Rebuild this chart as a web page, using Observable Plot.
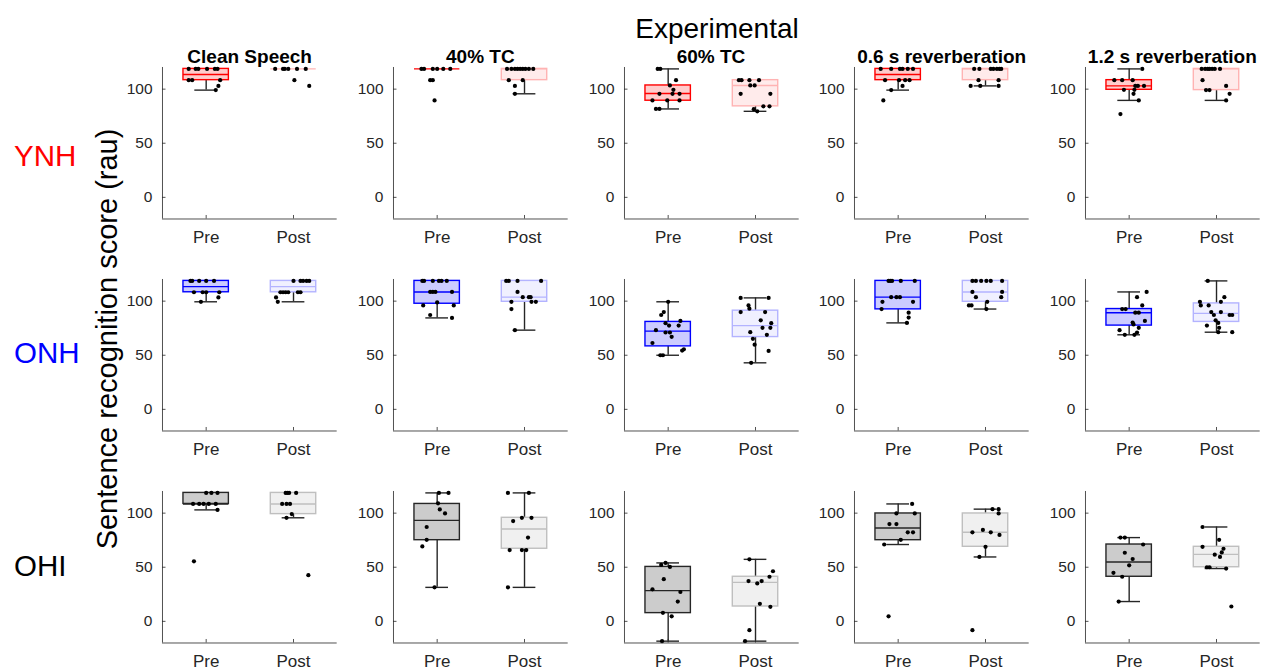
<!DOCTYPE html>
<html><head><meta charset="utf-8">
<script src="https://cdn.jsdelivr.net/npm/d3@7"></script>
<script src="https://cdn.jsdelivr.net/npm/@observablehq/plot@0.6"></script>
<style>
html,body{margin:0;padding:0;background:#fff;}
#chart{position:relative;width:1262px;height:669px;overflow:hidden;font-family:"Liberation Sans",Arial,sans-serif;}
#chart svg{position:absolute;}
</style></head><body><div id="chart"></div>
<script>
const groups = ["YNH", "ONH", "OHI"];
const conditions = ["Clean Speech", "40% TC", "60% TC", "0.6 s reverberation", "1.2 s reverberation"];
const sessions = ["Pre", "Post"];
const yTicks = [0, 50, 100];
const figureTitle = "Experimental";
const yLabel = "Sentence recognition score (rau)";

// Box statistics per condition: [Pre, Post]; each [lower whisker, Q1, median, Q3, upper whisker]
const ynhBoxes = [
  [[99.1, 108.3, 113.5, 118.7, 118.7], [118.7, 118.7, 118.7, 118.7, 118.7]],
  [[118.7, 118.7, 118.7, 118.7, 118.7], [95.7, 108.3, 118.7, 118.7, 118.7]],
  [[81.7, 89.3, 96.0, 103.4, 118.7], [79.5, 84.1, 103.4, 108.3, 108.3]],
  [[99.1, 108.3, 113.5, 118.7, 118.7], [103.0, 108.3, 118.7, 118.7, 118.7]],
  [[89.6, 99.4, 103.0, 108.3, 118.7], [89.6, 99.1, 118.7, 118.7, 118.7]]
];
const onhBoxes = [
  [[99.4, 108.2, 113.4, 118.7, 118.7], [99.4, 108.2, 113.4, 118.7, 118.7]],
  [[84.5, 97.6, 108.5, 118.7, 118.7], [73.2, 99.4, 103.7, 118.7, 118.7]],
  [[50.0, 58.2, 72.3, 80.8, 99.4], [43.0, 66.8, 77.4, 91.2, 103.0]],
  [[79.9, 92.4, 103.7, 118.7, 118.7], [92.7, 99.4, 108.5, 118.7, 118.7]],
  [[68.9, 77.4, 89.3, 92.7, 108.5], [71.3, 80.8, 88.7, 97.9, 118.7]]
];
const ohiBoxes = [
  [[103.0, 108.5, 108.5, 118.7, 118.7], [95.7, 99.1, 108.5, 118.7, 118.7]],
  [[31.4, 75.0, 93.3, 108.5, 118.7], [31.4, 67.1, 85.4, 95.7, 118.7]],
  [[-18.3, 7.6, 28.4, 50.3, 54.0], [-18.3, 13.7, 36.0, 41.2, 57.3]],
  [[71.0, 75.0, 86.3, 99.7, 108.5], [59.5, 68.9, 82.3, 99.7, 103.7]],
  [[18.3, 41.2, 54.9, 71.0, 77.4], [48.8, 50.0, 61.9, 68.9, 87.2]]
];

// Individual scores per condition: [Pre, Post]
const ynhScores = [
  [[118.7,118.7,118.7,118.7,118.7,118.7,108.3,108.3,108.3,103,99.1],
   [118.7,118.7,118.7,118.7,118.7,118.7,108.3,103]],
  [[118.7,118.7,118.7,118.7,118.7,118.7,108.3,108.3,89.6],
   [118.7,118.7,118.7,118.7,118.7,118.7,118.7,118.7,118.7,108.3,108.3,103,95.7]],
  [[118.7,118.7,108.3,103.4,99.4,95.7,95.7,95.7,89.6,89.6,89.6,81.7,81.7],
   [108.3,108.3,108.3,108.3,103.4,103.4,95.7,95.7,84.1,84.1,81.5,79.5]],
  [[118.7,118.7,118.7,118.7,118.7,118.7,108.3,108.3,108.3,108.3,103,99.1,89.6],
   [118.7,118.7,118.7,118.7,118.7,118.7,118.7,108.3,108.3,103,103,103]],
  [[118.7,108.3,108.3,108.3,103,103,103,99.4,99.4,95.7,89.6,77],
   [118.7,118.7,118.7,118.7,118.7,118.7,118.7,108.3,99.1,99.1,103,95.7,89.6]]
];
const onhScores = [
  [[118.7,118.7,118.7,118.7,118.7,108.2,108.2,108.2,108.2,103.4,99.4],
   [118.7,118.7,118.7,118.7,118.7,108.2,108.2,108.2,108.2,108.2,108.2,103.4,99.4]],
  [[118.7,118.7,118.7,118.7,118.7,118.7,108.5,108.5,108.5,108.5,98.8,96,96,87.2,84.5],
   [118.7,118.7,118.7,118.7,108.5,103.7,103.7,103.7,99.4,99.4,99.4,92.7,73.2]],
  [[99.4,89.9,87.2,81.7,79.6,77.4,77.4,73.2,71,71,67,61.3,55.5,54.3,50,50],
   [103,103,96,93,89.9,89.9,82.3,79.6,75.3,75.3,71.3,68.9,65.2,59.8,54,43]],
  [[118.7,118.7,118.7,118.7,118.7,103.7,103.7,103.7,99.4,99.4,92.7,89.3,84.8,79.9],
   [118.7,118.7,118.7,118.7,118.7,118.7,108.5,108.5,103.7,103.7,99.4,96,96,92.7]],
  [[108.5,103.7,96,92.7,92.7,89.3,89.3,81.7,80.2,78.5,75.3,73.2,71,68.9,68.9],
   [118.7,103.7,99.4,99.4,96,96,89.9,89.9,87.2,87.2,87.2,82.3,79.9,77.4,75.3,71.3,71.3]]
];
const ohiScores = [
  [[118.7,118.7,118.7,108.5,108.5,108.5,108.5,108.5,103,55.5],
   [118.7,118.7,118.7,118.7,108.5,108.5,108.5,99.1,95.7,42.7]],
  [[118.7,118.7,109.1,103.4,99.7,87.2,75.3,69.2,31.4],
   [118.7,118.7,95.7,95.7,92.7,77.4,65.9,65.9,65.9,31.4]],
  [[54,52.1,50.3,39,29.6,27.1,18.3,7.9,4.6,-18.3],
   [57.3,46.3,41.2,37.2,37.2,35,16.2,13.4,-8.2,-18.3]],
  [[108.5,99.7,99.7,89.9,89.9,82.3,82.3,75.3,71,4.6],
   [103.7,103.7,99.7,84.5,82.3,82.3,79.9,68.9,59.5,-8.2]],
  [[77.4,77.4,71,63.4,57.6,51.8,44.8,41.2,18.3],
   [87.2,75.3,68.9,67.1,63.7,61.6,59.5,50,50,48.8,13.7]]
];

// Horizontal jitter of each score (in session units)
const ynhJitter = [
  [[-0.2,-0.12,-0.09,0.01,0.1,0.13,-0.2,-0.16,0.16,0.14,0.11],
   [-0.21,-0.12,-0.1,-0.06,0.04,0.14,0.01,0.18]],
  [[-0.18,-0.15,-0.05,0,0.07,0.15,-0.08,-0.05,-0.03],
   [-0.2,-0.15,-0.11,-0.08,-0.05,-0.02,0.01,0.05,0.1,-0.18,-0.02,-0.11,-0.11]],
  [[-0.12,-0.09,0.09,0.02,0.06,-0.1,0.05,0.13,-0.18,-0.01,0.13,-0.14,-0.1],
   [-0.19,-0.16,-0.07,0.04,-0.06,-0.01,-0.17,0.17,0.09,0.16,-0.02,0.02]],
  [[-0.2,-0.08,0.02,0.05,0.11,0.17,-0.15,0.01,0.08,0.13,0.05,-0.08,-0.17],
   [-0.13,-0.07,0.06,0.09,0.13,0.16,0.18,-0.08,0.15,-0.17,-0.06,0.15]],
  [[0.15,-0.17,-0.08,0.04,0.07,0.1,0.17,-0.06,0.06,0.05,0.11,-0.1],
   [-0.17,-0.13,-0.1,-0.08,-0.05,-0.02,0.04,-0.16,-0.12,-0.08,0.11,0.15,0.11]]
];
const onhJitter = [
  [[-0.18,-0.16,-0.08,0,0.09,-0.14,-0.04,0,0.15,0.14,-0.06],
   [0,0.08,0.11,0.15,0.18,-0.15,-0.12,-0.09,-0.06,0.05,0.08,-0.2,-0.18]],
  [[-0.17,-0.15,-0.05,0.02,0.05,0.11,-0.08,-0.05,-0.02,0.17,0,-0.16,0.19,-0.08,0.17],
   [-0.21,-0.18,-0.08,0.19,-0.08,-0.02,0.05,0.07,-0.15,0.08,0.13,-0.15,-0.11]],
  [[0,-0.05,-0.08,0.14,-0.03,0.01,0.12,-0.14,-0.03,0.02,0.04,-0.18,0.18,0.16,-0.09,-0.06],
   [-0.17,0.15,-0.08,-0.07,-0.17,0.11,0.06,0.18,0.08,0.17,-0.06,0.13,-0.03,-0.01,0.15,-0.05]],
  [[-0.11,-0.09,-0.07,0.03,0.19,-0.08,-0.02,0.02,-0.18,0.17,-0.19,0.12,0.12,0.1],
   [-0.15,-0.11,-0.05,0.01,0.06,0.19,-0.15,0.19,-0.11,0.18,0.02,-0.19,-0.16,0.01]],
  [[0.2,0.09,0.15,-0.08,-0.04,0.07,0.11,0.18,0.04,0.05,0.11,-0.11,0.09,-0.05,0.06],
   [-0.1,0.09,-0.19,0.05,-0.18,-0.09,-0.06,0.05,-0.03,0.15,0.18,-0.01,0.02,-0.11,0.03,0.02,0.18]]
];
const ohiJitter = [
  [[0,0.06,0.13,-0.15,-0.08,-0.03,0.03,0.11,0.13,-0.14],
   [-0.09,-0.07,-0.05,0.03,-0.13,-0.08,-0.04,-0.02,-0.08,0.17]],
  [[0.02,0.13,0.01,0.03,0.09,-0.12,-0.12,-0.17,-0.03],
   [-0.19,0.05,-0.03,0.08,-0.13,0.04,-0.17,-0.03,0.02,-0.19]],
  [[-0.03,-0.08,0.02,-0.05,-0.18,0.14,0.11,-0.06,0.04,-0.07],
   [-0.07,0.2,0.16,-0.08,0.07,0.02,0.05,0.17,-0.07,-0.12]],
  [[0.16,-0.02,0.19,-0.1,-0.02,0.11,0.17,0.03,-0.16,-0.11],
   [0.08,0.15,0.15,-0.03,-0.15,0.06,0.16,0,-0.07,-0.15]],
  [[-0.1,-0.05,0.16,-0.05,0.04,0,-0.18,-0.08,-0.12],
   [-0.16,0.03,-0.16,0.08,0.06,-0.02,0.04,-0.11,-0.08,0.11,0.17]]
];

const allBoxes = [ynhBoxes, onhBoxes, ohiBoxes];
const allScores = [ynhScores, onhScores, ohiScores];
const allJitter = [ynhJitter, onhJitter, ohiJitter];

// Styles
const groupColor = {YNH: "#ff0000", ONH: "#0000ff", OHI: "#000000"};
const boxStyles = {
  YNH: {Pre: {fill: "#ffcccc", stroke: "#ff0000"}, Post: {fill: "#ffebeb", stroke: "#ffb3b3"}},
  ONH: {Pre: {fill: "#ccccff", stroke: "#0000ff"}, Post: {fill: "#f0f0ff", stroke: "#b3b3ff"}},
  OHI: {Pre: {fill: "#cccccc", stroke: "#262626"}, Post: {fill: "#f0f0f0", stroke: "#bfbfbf"}}
};
const ink = "#262626";
const FONT = '"Liberation Sans", Arial, Helvetica, sans-serif';

// Layout
const panelX = [162.3, 393.0, 623.6, 854.3, 1085.0];
const rowY = [66.7, 278.5, 490.7];
const plotW = 174.7, plotH = 151.5;
const ML = 52, MR = 8, MT = 6, MB = 40;
const boxHalf = 0.26, capHalf = 0.13;

const chart = document.getElementById("chart");

function panel(gi, ci) {
  const g = groups[gi];
  const st = boxStyles[g];
  const boxes = allBoxes[gi][ci].map((b, si) => ({
    x: si + 1, session: sessions[si], lo: b[0], q1: b[1], med: b[2], q3: b[3], hi: b[4]
  }));
  const pts = [];
  allScores[gi][ci].forEach((vals, si) => vals.forEach((v, k) => {
    pts.push({x: si + 1 + allJitter[gi][ci][si][k], y: v});
  }));
  const lowW = boxes.filter(d => d.lo < d.q1);
  const highW = boxes.filter(d => d.hi > d.q3);
  const fillOf = d => st[d.session].fill;
  const strokeOf = d => st[d.session].stroke;
  return Plot.plot({
    width: ML + plotW + MR,
    height: MT + plotH + MB,
    marginLeft: ML, marginRight: MR, marginTop: MT, marginBottom: MB,
    x: {domain: [0.5, 2.5], label: null},
    y: {domain: [-20, 120], label: null},
    color: {type: "identity"},
    style: {fontFamily: FONT, fontSize: "15.5px", color: ink, background: "transparent", overflow: "visible"},
    marks: [
      Plot.ruleX(lowW, {x: "x", y1: "lo", y2: "q1", stroke: ink, strokeWidth: 1.4}),
      Plot.ruleX(highW, {x: "x", y1: "q3", y2: "hi", stroke: ink, strokeWidth: 1.4}),
      Plot.ruleY(lowW, {y: "lo", x1: d => d.x - capHalf, x2: d => d.x + capHalf, stroke: ink, strokeWidth: 1.4}),
      Plot.ruleY(highW, {y: "hi", x1: d => d.x - capHalf, x2: d => d.x + capHalf, stroke: ink, strokeWidth: 1.4}),
      Plot.rect(boxes, {x1: d => d.x - boxHalf, x2: d => d.x + boxHalf, y1: "q1", y2: "q3",
        fill: fillOf, stroke: strokeOf, strokeWidth: 1.4}),
      Plot.ruleY(boxes, {y: "med", x1: d => d.x - boxHalf, x2: d => d.x + boxHalf, stroke: strokeOf, strokeWidth: 1.4}),
      Plot.dot(pts, {x: "x", y: "y", r: 2.1, fill: "#000", stroke: null}),
      Plot.ruleX([0.5], {stroke: ink, strokeWidth: 0.8}),
      Plot.ruleY([-20], {stroke: ink, strokeWidth: 0.8}),
      Plot.axisY(yTicks, {label: null, tickSize: 0, tickPadding: 10, fontSize: 15.5, fill: ink}),
      Plot.axisY(yTicks, {label: null, tickSize: -3.5, tickFormat: () => "", stroke: ink, strokeWidth: 0.8}),
      Plot.axisX([1, 2], {label: null, tickSize: 0, tickPadding: 12, tickFormat: d => sessions[d - 1], fontSize: 17, fill: ink}),
      Plot.axisX([1, 2], {label: null, tickSize: -3.5, tickFormat: () => "", stroke: ink, strokeWidth: 0.8})
    ]
  });
}

groups.forEach((g, gi) => {
  conditions.forEach((c, ci) => {
    const svg = panel(gi, ci);
    svg.style.left = (panelX[ci] - ML) + "px";
    svg.style.top = (rowY[gi] - MT) + "px";
    chart.appendChild(svg);
  });
});

// Text overlay (titles and labels)
const ov = d3.select(chart).append("svg")
  .attr("width", 1262).attr("height", 669)
  .style("left", "0px").style("top", "0px")
  .style("pointer-events", "none")
  .style("font-family", FONT);

ov.append("text").attr("x", 717).attr("y", 37.5).attr("text-anchor", "middle")
  .attr("font-size", 28).attr("fill", "#000").text(figureTitle);

conditions.forEach((c, ci) => {
  ov.append("text").attr("x", panelX[ci] + plotW / 2).attr("y", 62.5).attr("text-anchor", "middle")
    .attr("font-size", 19).attr("font-weight", "bold").attr("fill", "#000").text(c);
});

const rowLabelBaseline = [165.7, 363.3, 576];
groups.forEach((g, gi) => {
  ov.append("text").attr("x", 14).attr("y", rowLabelBaseline[gi])
    .attr("font-size", 29.5).attr("fill", groupColor[g]).text(g);
});

ov.append("text").attr("transform", "translate(117,339) rotate(-90)").attr("text-anchor", "middle")
  .attr("font-size", 29).attr("fill", "#000").text(yLabel);
</script></body></html>
